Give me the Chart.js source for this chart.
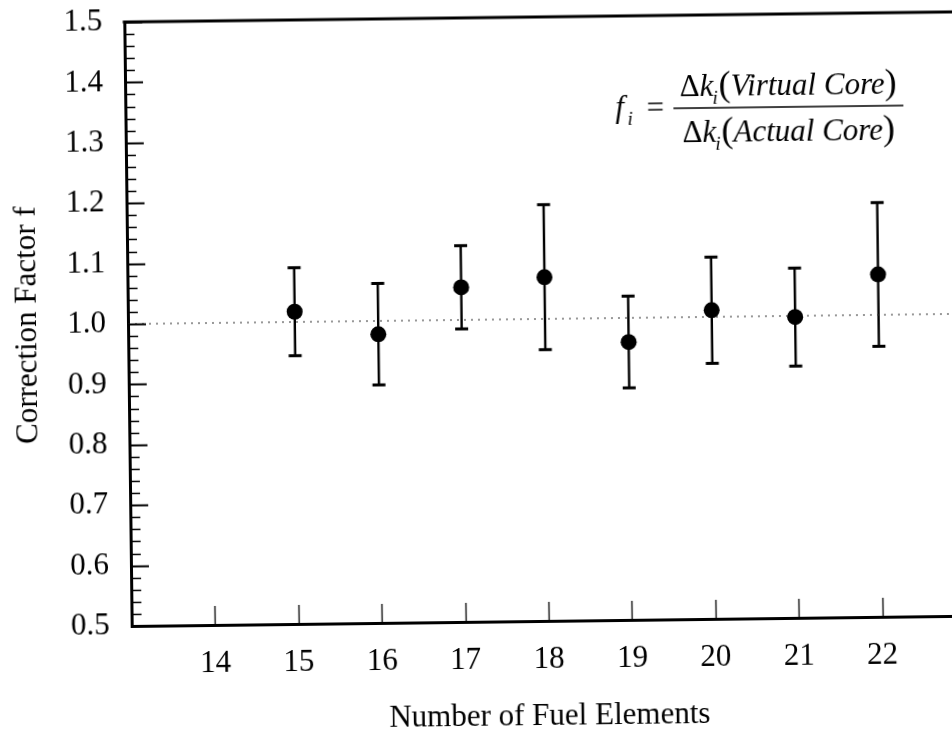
<!DOCTYPE html>
<html>
<head>
<meta charset="utf-8">
<title>Correction Factor vs Number of Fuel Elements</title>
<script src="https://cdn.jsdelivr.net/npm/chart.js@4.4.1/dist/chart.umd.min.js"></script>
<style>
  html, body { margin: 0; padding: 0; background: #fff; overflow: hidden; }
  #wrap {
    position: absolute; left: 0; top: 0;
    width: 975px; height: 740px;
    /* the printed figure sits slightly skewed on the page */
    transform: rotate(-0.7deg);
    transform-origin: 128px 324px;
  }
</style>
</head>
<body>
<div id="wrap"><canvas id="factorChart"></canvas></div>
<script>
// measured correction factor per core size, with its uncertainty
const fuelElements = [15, 16, 17, 18, 19, 20, 21, 22];
const correction   = [1.017, 0.978, 1.054, 1.069, 0.960, 1.011, 0.998, 1.067];
const uncertainty  = [0.073, 0.084, 0.069, 0.120, 0.076, 0.088, 0.081, 0.119];

const xTickValues = [14, 15, 16, 17, 18, 19, 20, 21, 22];
const yTickValues = [0.5, 0.6, 0.7, 0.8, 0.9, 1.0, 1.1, 1.2, 1.3, 1.4, 1.5];
const referenceLine = 1.0;

const serif = '"Liberation Serif", "Times New Roman", serif';

// inward tick marks, top frame line and error bars
const framePlugin = {
  id: 'frame',
  beforeDatasetsDraw(chart) {
    const { ctx } = chart;
    const x = chart.scales.x, y = chart.scales.y;
    ctx.save();
    ctx.strokeStyle = '#000';
    fuelElements.forEach((n, i) => {
      const px = x.getPixelForValue(n);
      const top = y.getPixelForValue(correction[i] + uncertainty[i]);
      const bot = y.getPixelForValue(correction[i] - uncertainty[i]);
      ctx.lineWidth = 2.4;
      ctx.beginPath();
      ctx.moveTo(px, top); ctx.lineTo(px, bot);
      ctx.stroke();
      ctx.lineWidth = 3;
      ctx.beginPath();
      ctx.moveTo(px - 6.5, top); ctx.lineTo(px + 6.5, top);
      ctx.moveTo(px - 6.5, bot); ctx.lineTo(px + 6.5, bot);
      ctx.stroke();
    });
    ctx.restore();
  },
  afterDraw(chart) {
    const { ctx, chartArea: a } = chart;
    const x = chart.scales.x, y = chart.scales.y;
    ctx.save();
    ctx.strokeStyle = '#000';

    // top frame
    ctx.lineWidth = 3;
    ctx.beginPath();
    ctx.moveTo(a.left - 1.5, a.top); ctx.lineTo(a.right, a.top);
    ctx.stroke();

    // y ticks: major every 0.1, minor every 0.02
    for (let k = 0; k <= 50; k++) {
      const v = 0.5 + k * 0.02;
      const py = Math.round(y.getPixelForValue(v)) + 0.5;
      const major = k % 5 === 0;
      ctx.lineWidth = major ? 2 : 1.5;
      ctx.beginPath();
      ctx.moveTo(a.left, py);
      ctx.lineTo(a.left + (major ? 18 : 10), py);
      ctx.stroke();
    }

    // x ticks
    ctx.lineWidth = 1.3;
    xTickValues.forEach(v => {
      const px = Math.round(x.getPixelForValue(v)) + 0.5;
      ctx.beginPath();
      ctx.moveTo(px, a.bottom);
      ctx.lineTo(px, a.bottom - 19);
      ctx.stroke();
    });

    // formula for the correction factor
    const f = chart.options.plugins.frame;
    drawFormula(ctx, f.cx, f.bar);
    ctx.restore();
  }
};

function drawRun(ctx, parts, cx, base) {
  let total = 0;
  parts.forEach(p => {
    ctx.font = p.font;
    p.w = ctx.measureText(p.text).width + (p.kern || 0);
    total += p.w;
  });
  let px = cx - total / 2;
  parts.forEach(p => {
    ctx.font = p.font;
    ctx.fillText(p.text, px, base + (p.dy || 0));
    px += p.w;
  });
  return cx - total / 2;
}

function drawFormula(ctx, cx, bar) {
  const it = 'italic 31px ' + serif;
  const up = '31px ' + serif;
  const paren = '36px ' + serif;
  const sub = 'italic 19px ' + serif;
  ctx.fillStyle = '#000';
  ctx.textBaseline = 'alphabetic';
  ctx.textAlign = 'left';

  const row = word => [
    { text: '\u0394', font: up },
    { text: 'k', font: it, kern: -1 },
    { text: 'i', font: sub, dy: 8, kern: 1 },
    { text: '(', font: paren },
    { text: word, font: it },
    { text: ')', font: paren }
  ];
  drawRun(ctx, row('Virtual Core'), cx, bar - 12);
  drawRun(ctx, row('Actual Core'), cx, bar + 34);

  ctx.lineWidth = 1.6;
  ctx.beginPath();
  ctx.moveTo(cx - 115, bar); ctx.lineTo(cx + 115, bar);
  ctx.stroke();

  ctx.font = it;
  ctx.fillText('f', cx - 173, bar + 8);
  ctx.font = sub;
  ctx.fillText('i', cx - 161, bar + 16);
  ctx.font = up;
  ctx.textAlign = 'center';
  ctx.fillText('=', cx - 133, bar + 9);
}

const ctx = document.getElementById('factorChart').getContext('2d');

new Chart(ctx, {
  type: 'scatter',
  data: {
    datasets: [
      {
        label: 'Correction Factor',
        data: fuelElements.map((n, i) => ({ x: n, y: correction[i] })),
        backgroundColor: '#000',
        borderColor: '#000',
        borderWidth: 0,
        pointRadius: 8,
        pointHoverRadius: 8,
        order: 1
      },
      {
        type: 'line',
        label: 'f = 1',
        data: [{ x: 13, y: referenceLine }, { x: 23, y: referenceLine }],
        borderColor: '#333',
        borderWidth: 1.2,
        borderDash: [2, 5],
        pointRadius: 0,
        fill: false,
        order: 2
      }
    ]
  },
  options: {
    responsive: true,
    maintainAspectRatio: false,
    animation: false,
    events: [],
    layout: { padding: { top: 22, right: 13, left: 0, bottom: 0 } },
    plugins: {
      legend: { display: false },
      tooltip: { enabled: false },
      frame: { cx: 791, bar: 115 }
    },
    scales: {
      x: {
        type: 'linear',
        min: 13,
        max: 23,
        grid: { display: true, drawOnChartArea: false, drawTicks: false },
        border: { display: true, width: 3, color: '#000' },
        afterBuildTicks: s => { s.ticks = xTickValues.map(v => ({ value: v })); },
        afterFit: s => { s.height = 114; s.paddingLeft = 0; s.paddingRight = 0; },
        ticks: {
          color: '#000',
          padding: 20,
          font: { family: serif, size: 31 },
          callback: v => String(v)
        },
        title: {
          display: true,
          text: 'Number of Fuel Elements',
          color: '#000',
          font: { family: serif, size: 31, lineHeight: 1.1 },
          padding: { top: 0, bottom: 1 }
        }
      },
      y: {
        type: 'linear',
        min: 0.5,
        max: 1.5,
        grid: { display: true, drawOnChartArea: false, drawTicks: false },
        border: { display: true, width: 3, color: '#000' },
        afterBuildTicks: s => { s.ticks = yTickValues.map(v => ({ value: v })); },
        afterFit: s => { s.width = 128; s.paddingTop = 0; s.paddingBottom = 0; },
        ticks: {
          color: '#000',
          padding: 22,
          font: { family: serif, size: 31 },
          callback: v => v.toFixed(1)
        },
        title: {
          display: true,
          text: 'Correction Factor f',
          color: '#000',
          font: { family: serif, size: 31 },
          padding: { top: 9, bottom: 0 }
        }
      }
    }
  },
  plugins: [framePlugin]
});
</script>
</body>
</html>
